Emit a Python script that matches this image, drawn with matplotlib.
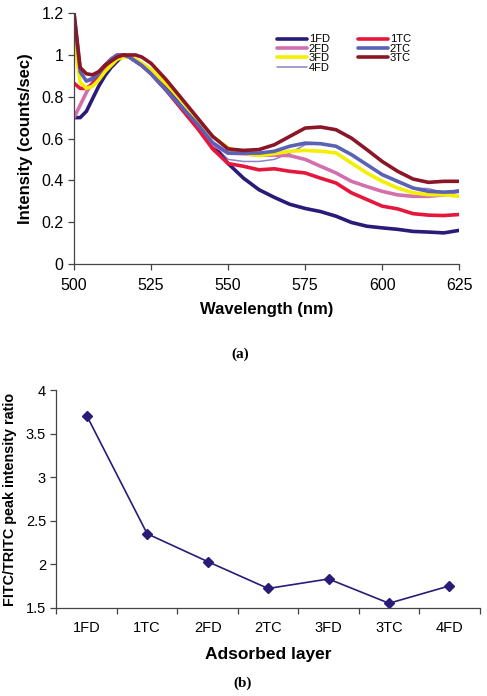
import matplotlib
matplotlib.use("Agg")
import matplotlib.pyplot as plt

plt.rcParams['font.family'] = ['Liberation Sans', 'DejaVu Sans']

wavelength = [500, 502, 504, 506, 508, 510, 512, 514, 516, 518, 520, 522, 525, 530, 535, 540,
              545, 550, 555, 560, 565, 570, 575, 580, 585, 590, 595, 600, 605, 610, 615, 620, 625]

s_1FD = [0.70, 0.70, 0.73, 0.79, 0.85, 0.90, 0.94, 0.97, 1.00, 0.99, 0.97, 0.95, 0.92, 0.84, 0.75, 0.66,
         0.57, 0.48, 0.41, 0.355, 0.318, 0.285, 0.265, 0.25, 0.228, 0.198, 0.18, 0.172, 0.165, 0.155, 0.152, 0.148, 0.16]
s_1TC = [0.865, 0.84, 0.84, 0.86, 0.90, 0.94, 0.97, 0.99, 1.00, 0.99, 0.97, 0.95, 0.91, 0.83, 0.74, 0.65,
         0.55, 0.48, 0.467, 0.45, 0.455, 0.443, 0.435, 0.41, 0.387, 0.34, 0.308, 0.276, 0.263, 0.24, 0.233, 0.231, 0.236]
s_2FD = [0.70, 0.76, 0.82, 0.87, 0.91, 0.95, 0.98, 1.00, 1.00, 0.99, 0.97, 0.95, 0.91, 0.83, 0.74, 0.65,
         0.57, 0.53, 0.527, 0.52, 0.52, 0.518, 0.50, 0.467, 0.435, 0.395, 0.37, 0.347, 0.33, 0.323, 0.323, 0.33, 0.35]
s_3FD = [1.08, 0.87, 0.84, 0.85, 0.88, 0.92, 0.95, 0.98, 0.99, 0.99, 0.98, 0.96, 0.93, 0.86, 0.78, 0.69,
         0.61, 0.555, 0.53, 0.518, 0.527, 0.539, 0.543, 0.539, 0.531, 0.483, 0.435, 0.395, 0.363, 0.34, 0.331, 0.331, 0.323]
s_2TC = [1.20, 0.92, 0.875, 0.885, 0.91, 0.95, 0.98, 1.00, 1.00, 0.99, 0.97, 0.95, 0.91, 0.83, 0.75, 0.67,
         0.58, 0.53, 0.53, 0.53, 0.539, 0.563, 0.578, 0.575, 0.563, 0.523, 0.475, 0.427, 0.395, 0.363, 0.347, 0.343, 0.347]
s_4FD = [1.19, 0.91, 0.88, 0.895, 0.92, 0.955, 0.98, 1.00, 1.00, 0.99, 0.97, 0.95, 0.91, 0.83, 0.74, 0.65,
         0.57, 0.50, 0.49, 0.49, 0.50, 0.53, 0.57, 0.575, 0.563, 0.523, 0.475, 0.427, 0.39, 0.363, 0.36, 0.34, 0.355]
s_3TC = [1.20, 0.94, 0.91, 0.905, 0.92, 0.95, 0.97, 0.99, 1.00, 1.00, 1.00, 0.99, 0.96, 0.88, 0.79, 0.70,
         0.61, 0.55, 0.543, 0.547, 0.57, 0.61, 0.65, 0.655, 0.642, 0.602, 0.547, 0.49, 0.443, 0.406, 0.39, 0.395, 0.395]

layers = ['1FD', '1TC', '2FD', '2TC', '3FD', '3TC', '4FD']
ratio = [3.71, 2.35, 2.03, 1.72, 1.83, 1.55, 1.75]

fig = plt.figure(figsize=(4.87, 6.96), dpi=100)

# ---- top panel ----
ax1 = fig.add_axes([0.152, 0.621, 0.791, 0.360])
series = [
    ('1FD', s_1FD, '#2B1B78', 2.6),
    ('2FD', s_2FD, '#D46FAE', 2.6),
    ('3FD', s_3FD, '#F4EE00', 2.6),
    ('4FD', s_4FD, '#8C84C4', 1.1),
    ('1TC', s_1TC, '#E5173C', 2.6),
    ('2TC', s_2TC, '#5A62B5', 2.6),
    ('3TC', s_3TC, '#8A1628', 2.6),
]
draw_order = ['4FD', '1FD', '2FD', '1TC', '3FD', '2TC', '3TC']
handles = {}
for name in draw_order:
    for lab, vals, col, lw in series:
        if lab == name:
            h, = ax1.plot(wavelength, vals, color=col, lw=lw, label=lab, solid_capstyle='round')
            handles[lab] = h
ax1.set_xlim(500, 625)
ax1.set_ylim(0, 1.2)
ax1.set_xticks([500, 525, 550, 575, 600, 625])
ax1.set_yticks([0, 0.2, 0.4, 0.6, 0.8, 1.0, 1.2])
ax1.set_yticklabels(['0', '0.2', '0.4', '0.6', '0.8', '1', '1.2'])
for sp in ['top', 'right']:
    ax1.spines[sp].set_visible(False)
for sp in ['left', 'bottom']:
    ax1.spines[sp].set_color('#444444')
    ax1.spines[sp].set_linewidth(0.9)
ax1.tick_params(direction='out', length=4, width=0.9, colors='#444444', labelcolor='black', labelsize=11.5)
ax1.tick_params(axis='x', pad=6)
ax1.set_xlabel('Wavelength (nm)', fontsize=12, fontweight='bold', labelpad=7)
ax1.set_ylabel('Intensity (counts/sec)', fontsize=12, fontweight='bold', labelpad=6)
leg_order = ['1FD', '2FD', '3FD', '4FD', '1TC', '2TC', '3TC']
ax1.legend([handles[k] for k in leg_order], leg_order, ncol=2, frameon=False,
           fontsize=8, handlelength=2.7, handletextpad=0.2, labelspacing=-0.05,
           columnspacing=2.5, loc='upper left', bbox_to_anchor=(0.50, 0.955))
fig.text(0.493, 0.491, '(a)', ha='center', va='center', fontsize=11, fontweight='bold',
         family='Liberation Serif')

# ---- bottom panel ----
ax2 = fig.add_axes([0.116, 0.127, 0.869, 0.312])
xpos = list(range(len(layers)))
ax2.plot(xpos, ratio, color='#2B1B78', lw=1.2, marker='D', markersize=5,
         markerfacecolor='#2B1B78', markeredgecolor='#2B1B78')
ax2.set_xlim(-0.5, len(layers) - 0.5)
ax2.set_ylim(1.5, 4)
ax2.set_yticks([1.5, 2, 2.5, 3, 3.5, 4])
ax2.set_yticklabels(['1.5', '2', '2.5', '3', '3.5', '4'])
ax2.set_xticks(xpos)
ax2.set_xticklabels(layers)
ax2.set_xticks([i - 0.5 for i in range(len(layers) + 1)], minor=True)
ax2.tick_params(axis='x', which='major', length=0, pad=10)
ax2.tick_params(axis='x', which='minor', direction='out', length=4, width=0.9, colors='#444444')
ax2.tick_params(axis='y', direction='out', length=4, width=0.9, colors='#444444', labelcolor='black')
ax2.tick_params(labelsize=10.5)
for sp in ['top', 'right']:
    ax2.spines[sp].set_visible(False)
for sp in ['left', 'bottom']:
    ax2.spines[sp].set_color('#444444')
    ax2.spines[sp].set_linewidth(0.9)
ax2.set_xlabel('Adsorbed layer', fontsize=12.5, fontweight='bold', labelpad=8)
ax2.set_ylabel('FITC/TRITC peak intensity ratio', fontsize=10.4, fontweight='bold', labelpad=6)
fig.text(0.499, 0.019, '(b)', ha='center', va='center', fontsize=11, fontweight='bold',
         family='Liberation Serif')

fig.savefig('out.png', dpi=100)
